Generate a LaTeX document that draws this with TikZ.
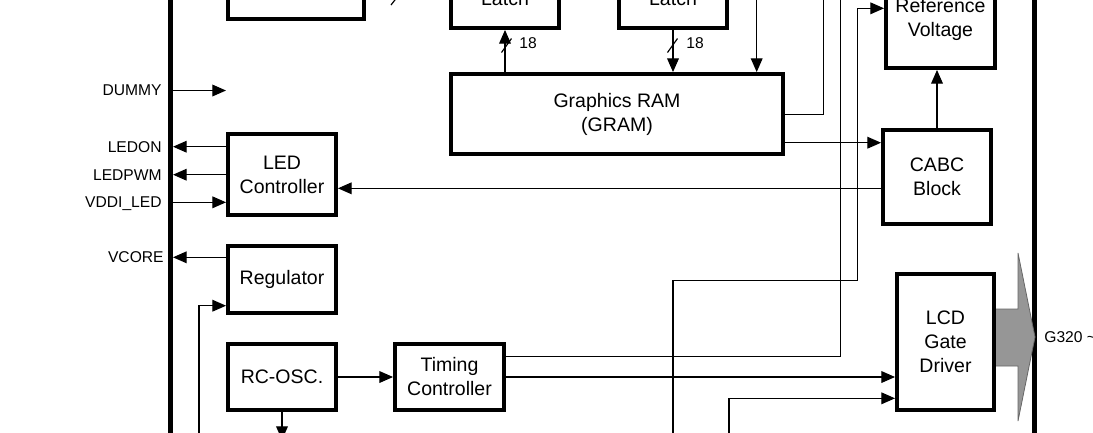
\documentclass[tikz,border=0pt]{standalone}
\usepackage{fontspec}
\setmainfont{Liberation Sans}
\usetikzlibrary{arrows.meta}
\newlength{\pxu}
\setlength{\pxu}{0.018cm}
\definecolor{outgray}{RGB}{150,150,150}
\begin{document}
\begin{tikzpicture}[x=\pxu, y=-\pxu, font=\fontsize{10}{12.3}\selectfont, line join=miter, >={Triangle[length=7pt,width=6pt]},
  blk/.style={draw, line width=2pt, align=center, inner sep=0pt},
  sz/.style 2 args={minimum width=#1*\pxu, minimum height=#2*\pxu},
  wire/.style={line width=0.6pt},
  pin/.style={font=\fontsize{8}{9}\selectfont, anchor=east, inner sep=0pt, text depth=0pt},
  busw/.style={font=\fontsize{8}{9}\selectfont, anchor=west, inner sep=0pt}]
\useasboundingbox (0,0) rectangle (1093,432);
\clip (0,0) rectangle (1093,432);
\draw[line width=2.6pt]
  (170.5,-10) -- (170.5,442)
  (1034.5,-10) -- (1034.5,442)
  ;
\draw[draw=black!60, fill=outgray, line width=0.4pt]
  (994,309) -- (1018,309) -- (1018,253) -- (1035,337) -- (1018,421) -- (1018,366) -- (994,366) -- cycle;
\node[blk, sz={136}{90}] (ctl) at (296,-26) {};
\node[blk, sz={108}{58}] (lat1) at (505,-1) {Latch};
\node[blk, sz={108}{58}] (lat2) at (673,-1) {Latch};
\node[blk, sz={332}{80}] (gram) at (617,114) {Graphics RAM\\(GRAM)};
\node[blk, sz={109}{98}] (vref) at (940.5,19) {Reference\\Voltage};
\node[blk, sz={108}{94}] (cabc) at (937,177) {CABC\\Block};
\node[blk, sz={108}{81}] (ledc) at (282,174.5) {LED\\Controller};
\node[blk, sz={108}{67}] (reg) at (282,279.5) {Regulator};
\node[blk, sz={108}{66}] (osc) at (282,377) {RC-OSC.};
\node[blk, sz={109}{66}] (tcon) at (449.5,377) {Timing\\Controller};
\node[blk, sz={97}{136}] (gdrv) at (945.5,342) {LCD\\Gate\\Driver};
\path
  (162,90.5) node[pin] (dummy) {DUMMY}
  (162,146.7) node[pin] (ledon) {LEDON}
  (162,174.7) node[pin] (ledpwm) {LEDPWM}
  (162,202.3) node[pin] (vddi) {VDDI\_LED}
  (164,257.3) node[pin] (vcore) {VCORE}
  (519,43.5) node[busw] (bw1) {18}
  (686,43.5) node[busw] (bw2) {18}
  (1044,337) node[busw, anchor=west] (gout) {G320 \textasciitilde}
  ;
\coordinate (pl) at (173,0);
\coordinate (dumend) at (226,90.5);
\coordinate (vin) at (199,440);
\coordinate (t1) at (840.4,-10);
\coordinate (t2) at (823.3,-10);
\coordinate (t3) at (756.7,-10);
\coordinate (b1) at (729,440);
\coordinate (b2) at (673,440);
\coordinate (k1) at (857.4,280.3);
\draw[wire,->] (dummy.east -| pl) -- (dumend);
\draw[wire,->] (ledc.west |- ledon.east) -- (ledon.east -| pl);
\draw[wire,->] (ledc.west |- ledpwm.east) -- (ledpwm.east -| pl);
\draw[wire,->] (vddi.east -| pl) -- (ledc.west |- vddi.east);
\draw[wire,->] (reg.west |- vcore.east) -- (vcore.east -| pl);
\draw[wire,->] (vin) |- ([shift={(0,26.2)}]reg.west);
\draw[wire,->] (osc) -- (tcon);
\draw[wire,->] (osc.south) -- (osc.south |- vin);
\draw[wire] ([shift={(0,-20.3)}]tcon.east) -| (t1);
\draw[wire,->] (tcon.east) -- (tcon.east -| gdrv.west);
\draw[wire,->] (b1) |- ([shift={(0,56.3)}]gdrv.west);
\draw[wire,->] (b2) |- (k1) |- ([shift={(0,-10.7)}]vref.west);
\draw[wire] (t2) |- ([shift={(0,0.3)}]gram.east);
\draw[wire,->] ([shift={(0,28.7)}]gram.east) coordinate (g2) -- (g2 -| cabc.west);
\draw[wire,->] ([shift={(0,11.3)}]cabc.west) coordinate (c2) -- (c2 -| ledc.east);
\draw[wire,->] (cabc.north) -- (cabc.north |- vref.south);
\draw[wire,->] (gram.north -| lat1) -- (lat1.south);
\draw[wire,->] (lat2.south) -- (lat2.south |- gram.north);
\draw[wire,->] (t3) -- (t3 |- gram.north);
\draw[wire]
  (506.5,45.5) ++(-5,7) -- ++(10,-14)
  (672.5,45.5) ++(-5,7) -- ++(10,-14)
  (391,5) -- (398,-4)
  ;
\end{tikzpicture}
\end{document}
